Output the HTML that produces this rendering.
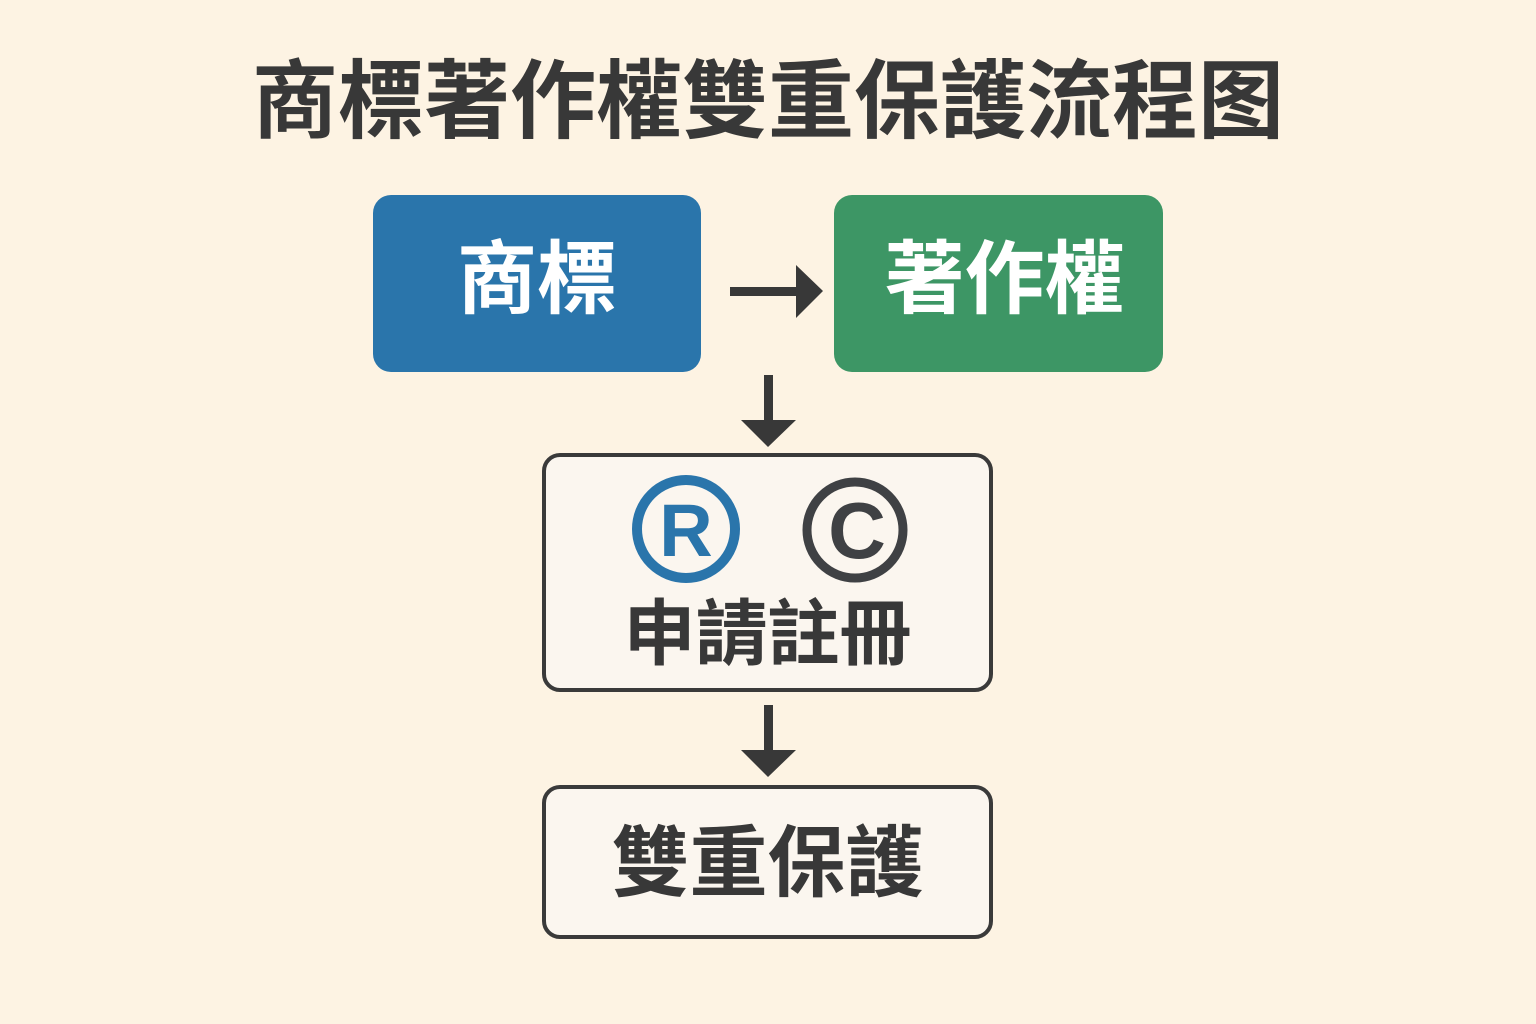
<!DOCTYPE html>
<html><head><meta charset="utf-8"><style>
html,body{margin:0;padding:0}
body{width:1536px;height:1024px;background:#fdf3e3;position:relative;overflow:hidden;font-family:"Liberation Sans","Noto Sans CJK TC",sans-serif;font-weight:bold}
.t{position:absolute;left:0;width:1536px;text-align:center;top:52px;font-size:86px;line-height:100px;color:#383838;letter-spacing:0px}
.b{position:absolute;border-radius:18px;box-sizing:border-box;text-align:center}
</style></head><body>
<div class="t">商標著作權雙重保護流程图</div>
<div class="b" style="left:373px;top:195px;width:328px;height:177px;background:#2a75ab;color:#fff;font-size:80px;line-height:170px">商標</div>
<div class="b" style="left:834px;top:195px;width:329px;height:177px;background:#3d9665;color:#fff;font-size:80px;line-height:170px;padding-left:12px">著作權</div>
<div class="b" style="left:542px;top:453px;width:451px;height:239px;background:#fbf6ef;border:4px solid #3a3a3a"></div>
<div class="b" style="left:542px;top:785px;width:451px;height:154px;background:#fbf6ef;border:4px solid #3a3a3a;color:#383838;font-size:78px;line-height:148px">雙重保護</div>
<div style="position:absolute;left:542px;width:451px;top:595px;text-align:center;font-size:72px;line-height:80px;color:#383838">申請註冊</div>
<svg width="1536" height="1024" style="position:absolute;left:0;top:0">
<g fill="#383838">
<rect x="730" y="287" width="70" height="9"/><polygon points="796,265 823,291 796,318"/>
<rect x="764" y="375" width="9" height="50"/><polygon points="741,420 796,420 768,447"/>
<rect x="764" y="705" width="9" height="50"/><polygon points="741,750 796,750 768,777"/>
</g>
<circle cx="686" cy="529" r="49" fill="none" stroke="#2a75ab" stroke-width="10"/>
<text x="686" y="556" text-anchor="middle" font-size="74" font-family="Liberation Sans" font-weight="bold" fill="#2a75ab">R</text>
<circle cx="855" cy="530" r="48" fill="none" stroke="#3f4144" stroke-width="9"/>
<text x="857" y="558" text-anchor="middle" font-size="80" font-family="Liberation Sans" font-weight="bold" fill="#3f4144">C</text>
</svg>
</body></html>
